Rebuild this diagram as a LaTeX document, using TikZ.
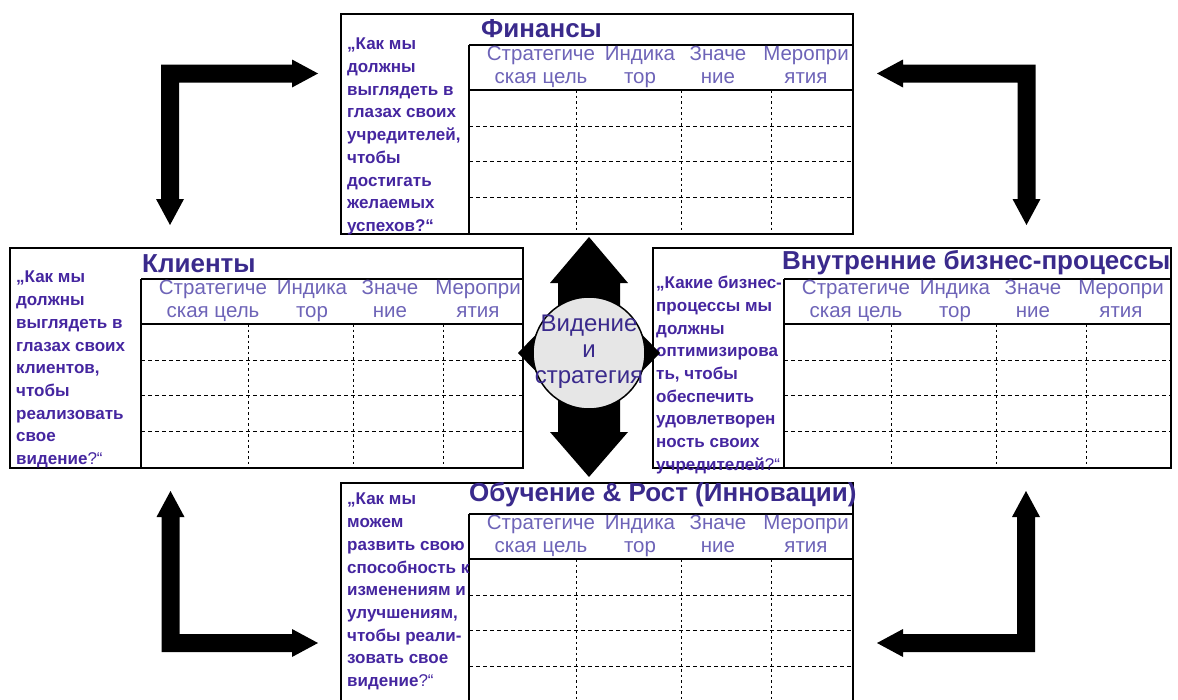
\documentclass[tikz,border=0pt]{standalone}
\usepackage{fontspec}
\setmainfont{Liberation Sans}
\definecolor{titlecol}{HTML}{3A2A8C}
\definecolor{qcol}{HTML}{4526A0}
\definecolor{hdrcol}{HTML}{6E64B8}
\definecolor{circfill}{HTML}{E6E6E6}
\tikzset{
  panelbox/.style={draw=black, line width=2pt, fill=white, inner sep=0pt},
  tablerule/.style={draw=black, line width=1.3pt},
  rowdash/.style={draw=black, line width=0.9pt, dash pattern=on 4pt off 3pt},
  coldash/.style={draw=black, line width=1pt, dash pattern=on 2.5pt off 3pt},
  hdr/.style={font=\fontsize{20.5}{23}\selectfont, text=hdrcol, anchor=base, inner sep=0pt},
  ptitle/.style={font=\bfseries\fontsize{26}{28}\selectfont, text=titlecol, anchor=base west, inner sep=0pt},
  question/.style={font=\bfseries\fontsize{17}{22.7}\selectfont, text=qcol, anchor=north west, inner sep=0pt, align=left},
  blockarrow/.style={fill=black},
  visiontxt/.style={font=\fontsize{24}{26}\selectfont, text=titlecol, align=center, inner sep=0pt}
}
\newcommand\bscpanel[5]{%
  \begin{scope}[shift={(#2,#3)}]
    \node[panelbox, minimum width=#4pt, minimum height=220pt, anchor=north west] (#1) at (0,0) {};
    \draw[tablerule] (#5,32) -- (#5,220) (#5,32) -- (#4,32) (#5,77) -- (#4,77);
    \foreach \yy in {113,148,184} \draw[rowdash] (#5,\yy) -- (#4,\yy);
    \foreach \xx in {107,212,302} \draw[coldash] ({#5+\xx},77) -- ({#5+\xx},220);
    \foreach \xx/\la/\lb in {72/Стратегиче/ская цель, 171/Индика/тор, 249/Значе/ние, 337/Меропри/ятия} {
      \node[hdr] (#1a\xx) at ({#5+\xx},47) {\la};
      \node[hdr] (#1b\xx) at ({#5+\xx},70) {\lb};
    }
  \end{scope}}
\newcommand\cornerarrow[6]{%
  \fill[blockarrow] ({#1-(#5)*9},{#2-(#6)*9}) -- ({#3-(#5)*26},{#2-(#6)*9}) -- ({#3-(#5)*26},{#2-(#6)*14})
    -- (#3,#2) -- ({#3-(#5)*26},{#2+(#6)*14}) -- ({#3-(#5)*26},{#2+(#6)*9})
    -- ({#1+(#5)*9},{#2+(#6)*9}) -- ({#1+(#5)*9},{#4-(#6)*26}) -- ({#1+(#5)*14},{#4-(#6)*26})
    -- (#1,#4) -- ({#1-(#5)*14},{#4-(#6)*26}) -- ({#1-(#5)*9},{#4-(#6)*26}) -- cycle;}
\begin{document}
\begin{tikzpicture}[x=1pt,y=-1pt]
\useasboundingbox (0,0) rectangle (1178,699);
\clip (0,0) rectangle (1178,699);
\fill[white] (0,0) rectangle (1178,699);

% panels
\bscpanel{fin}{340}{13}{512}{129}
\bscpanel{cli}{9}{247}{513}{132}
\bscpanel{proc}{652}{247}{518}{132}
\bscpanel{learn}{340}{482}{512}{129}

% titles
\node[ptitle] (fintitle) at (481,37) {Финансы};
\node[ptitle] (clititle) at (142,272) {Клиенты};
\node[ptitle] (proctitle) at (782,269) {Внутренние бизнес-процессы};
\node[ptitle] (learntitle) at (469,501) {Обучение \& Рост (Инновации)};

% questions
\node[question] (finq) at (347,38) {„Как мы\\должны\\выглядеть в\\глазах своих\\учредителей,\\чтобы\\достигать\\желаемых\\успехов?“};
\node[question] (cliq) at (16,271) {„Как мы\\должны\\выглядеть в\\глазах своих\\клиентов,\\чтобы\\реализовать\\свое\\видение\textmd{?“}};
\node[question] (procq) at (656,276) {„Какие бизнес-\\процессы мы\\должны\\оптимизирова\\ть, чтобы\\обеспечить\\удовлетворен\\ность своих\\учредителей\textmd{?“}};
\node[question] (learnq) at (347,493) {„Как мы\\можем\\развить свою\\способность к\\изменениям и\\улучшениям,\\чтобы реали-\\зовать свое\\видение\textmd{?“}};

% corner arrows
\cornerarrow{170}{73.5}{318}{225}{1}{1}
\cornerarrow{1026.5}{73.5}{877}{225}{-1}{1}
\cornerarrow{170.5}{643}{318}{491}{1}{-1}
\cornerarrow{1026}{643}{877}{491}{-1}{-1}

% centre
\fill[blockarrow] (589,237) -- (628,283) -- (620,283) -- (620,432) -- (628,432) -- (589,477)
  -- (550,432) -- (558,432) -- (558,283) -- (550,283) -- cycle;
\fill[blockarrow] (518,353) -- (552,318) -- (552,388) -- cycle;
\fill[blockarrow] (660,353) -- (626,318) -- (626,388) -- cycle;
\node[circle, draw=black, line width=1.5pt, fill=circfill, minimum size=112pt, inner sep=0pt] (vision) at (589,353) {};
\node[visiontxt] (visiontext) at (589,352) {Видение\\и\\стратегия};
\end{tikzpicture}
\end{document}
